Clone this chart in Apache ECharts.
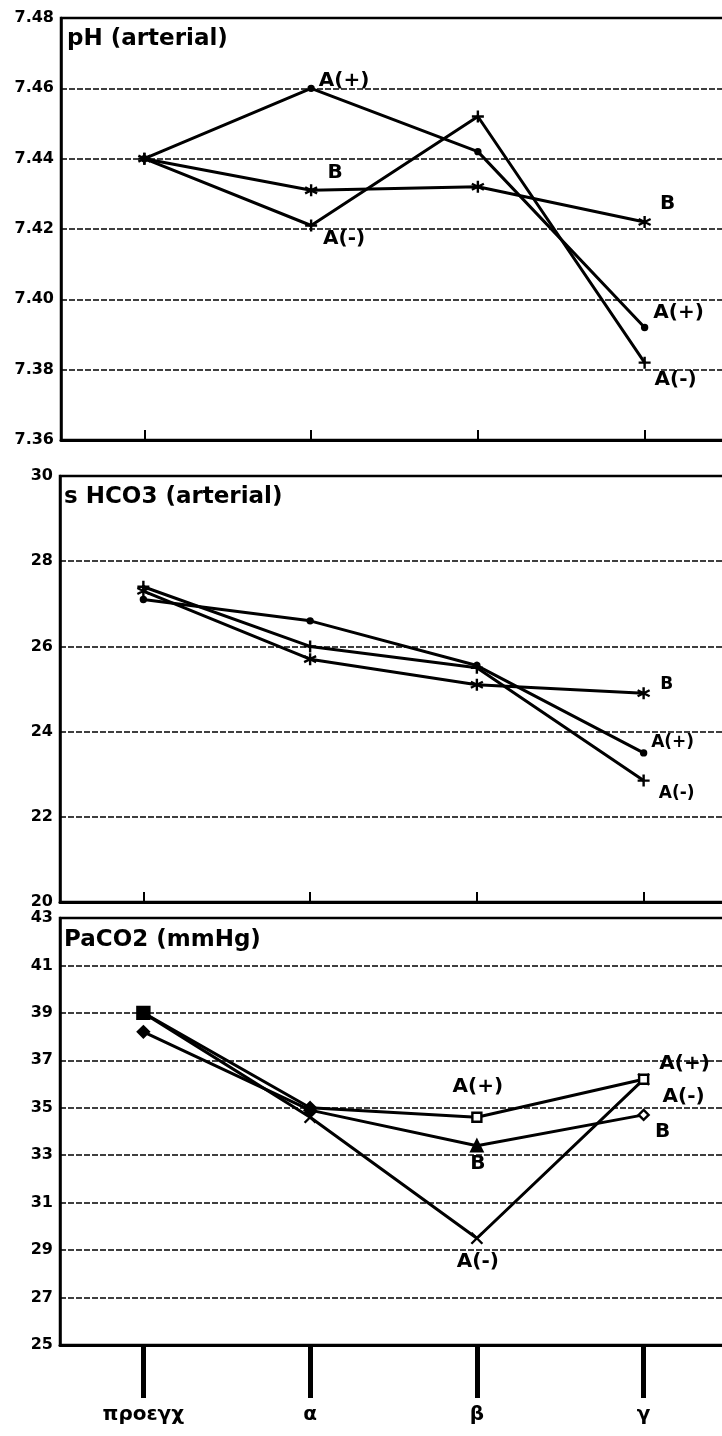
<!DOCTYPE html>
<html>
<head>
<meta charset="utf-8">
<script src="https://cdn.jsdelivr.net/npm/echarts@6/dist/echarts.min.js"></script>
<style>
  html, body { margin: 0; padding: 0; background: #fff; }
  #chart { width: 722px; height: 1436px; }
</style>
</head>
<body>
<div id="chart"></div>
<script>
// ---- data ----
const stages = ['προεγχ', 'α', 'β', 'γ'];

// pH (arterial)
const phAplus  = [7.44, 7.46, 7.442, 7.392];
const phAminus = [7.44, 7.421, 7.452, 7.382];
const phB      = [7.44, 7.431, 7.432, 7.422];
const phTicks  = [7.36, 7.38, 7.40, 7.42, 7.44, 7.46, 7.48];
const phLabelsAplus  = ['', 'A(+)', '', 'A(+)'];
const phLabelsAminus = ['', 'A(-)', '', 'A(-)'];
const phLabelsB      = ['', 'B', '', 'B'];

// s HCO3 (arterial)
const hcoAplus  = [27.1, 26.6, 25.55, 23.5];
const hcoAminus = [27.4, 26.0, 25.5, 22.85];
const hcoB      = [27.3, 25.7, 25.1, 24.9];
const hcoTicks  = [20, 22, 24, 26, 28, 30];
const hcoLabelsAplus  = ['', '', '', 'A(+)'];
const hcoLabelsAminus = ['', '', '', 'A(-)'];
const hcoLabelsB      = ['', '', '', 'B'];

// PaCO2 (mmHg)
const pacAplus  = [39.0, 35.0, 34.6, 36.2];
const pacAminus = [39.0, 34.6, 29.5, 36.2];
const pacB      = [38.2, 34.9, 33.4, 34.7];
const pacTicks  = [25, 27, 29, 31, 33, 35, 37, 39, 41, 43];
const pacLabelsAplus  = ['', '', 'A(+)', 'A(+)'];
const pacLabelsAminus = ['', '', 'A(-)', 'A(-)'];
const pacLabelsB      = ['', '', 'B', 'B'];

// ---- styling ----
const FONT = 'DejaVu Sans';
const INK = '#000';
const AST   = 'path://M0,-6L0,6M-5.2,-3L5.2,3M-5.2,3L5.2,-3';
const PLUS  = 'path://M0,-6L0,6M-6,0L6,0';
const CROSS = 'path://M-5,-5L5,5M-5,5L5,-5';

// label offsets (px from the point) for each series, per stage
const place = {
  phAplus:  [null, [33, -8], null, [34, -15]],
  phAminus: [null, [33, 13], null, [31, 17]],
  phB:      [null, [24, -18], null, [23, -18]],
  hcoAplus: [null, null, null, [29, -10]],
  hcoAminus:[null, null, null, [33, 13]],
  hcoB:     [null, null, null, [23, -9]],
  pacAplus: [null, null, [1, -30], [41, -16]],
  pacAminus:[null, null, [1, 24], [40, 17]],
  pacB:     [null, null, [1, 18], [19, 17]]
};

function series(panel, values, labels, offsets, marks, fontSize) {
  return {
    type: 'line',
    xAxisIndex: panel,
    yAxisIndex: panel,
    showAllSymbol: true,
    lineStyle: { color: INK, width: 3 },
    itemStyle: { color: INK, borderColor: INK, borderWidth: 2.4 },
    z: 3,
    data: values.map((v, i) => {
      const m = marks[i];
      const item = {
        value: v,
        symbol: m[0],
        symbolSize: m[1],
        itemStyle: { color: m[2] || INK }
      };
      if (labels[i]) {
        item.label = {
          show: true,
          formatter: labels[i],
          position: 'inside',
          offset: offsets[i],
          color: INK,
          textBorderWidth: 0,
          fontFamily: FONT,
          fontWeight: 'bold',
          fontSize: fontSize
        };
      }
      return item;
    })
  };
}

const dot = ['circle', 5];
const ast = [AST, 12];
const plus = [PLUS, 12];
const cross = [CROSS, 11];
const sqOpen = ['rect', 9, '#fff'];
const sqFull = ['rect', 12];
const dia = ['diamond', 11];
const diaOpen = ['diamond', 10, '#fff'];
const tri = ['triangle', 11];

function yAxis(panel, ticks, step, fmt, colors) {
  return {
    type: 'value',
    gridIndex: panel,
    min: ticks[0],
    max: ticks[ticks.length - 1],
    interval: step,
    axisLine: { show: true, lineStyle: { color: INK, width: 2.5 } },
    axisTick: { show: false },
    axisLabel: {
      color: INK, fontFamily: FONT, fontWeight: 'bold', fontSize: 16,
      margin: 7, formatter: fmt
    },
    splitLine: {
      show: true,
      lineStyle: { color: colors || INK, width: 1.7, type: [6, 2] }
    }
  };
}

function xAxis(panel, bottom) {
  return {
    type: 'category',
    gridIndex: panel,
    data: stages,
    boundaryGap: true,
    axisLine: { show: true, lineStyle: { color: INK, width: 3 } },
    axisTick: bottom
      ? { show: true, alignWithLabel: true, inside: false, length: 53, lineStyle: { color: INK, width: 5 } }
      : { show: true, alignWithLabel: true, inside: true, length: 10, lineStyle: { color: INK, width: 2 } },
    axisLabel: bottom
      ? { show: true, color: INK, fontFamily: FONT, fontWeight: 'bold', fontSize: 20, margin: 60 }
      : { show: false },
    splitLine: { show: false }
  };
}

// the plot area runs on past the right edge of the page
const gridBox = {
  show: true, borderColor: INK, borderWidth: 2.5, backgroundColor: 'transparent',
  outerBoundsMode: 'none', containLabel: false
};

const option = {
  animation: false,
  backgroundColor: '#fff',
  title: [
    { text: 'pH (arterial)', left: 67, top: 28 },
    { text: 's HCO3 (arterial)', left: 64, top: 486 },
    { text: 'PaCO2 (mmHg)', left: 64, top: 929 }
  ].map(t => Object.assign(t, {
    padding: 0,
    textStyle: { color: INK, fontFamily: FONT, fontWeight: 'bold', fontSize: 23 }
  })),
  grid: [
    Object.assign({ left: 61, top: 18, width: 667, height: 422 }, gridBox),
    Object.assign({ left: 60, top: 476, width: 667, height: 426 }, gridBox),
    Object.assign({ left: 60, top: 918, width: 667, height: 427 }, gridBox)
  ],
  xAxis: [xAxis(0, false), xAxis(1, false), xAxis(2, true)],
  yAxis: [
    yAxis(0, phTicks, 0.02, v => v.toFixed(2)),
    yAxis(1, hcoTicks, 2, v => String(v)),
    // odd-valued grid: step 1, every other line and label hidden
    yAxis(2, pacTicks, 1, v => (pacTicks.indexOf(v) >= 0 ? String(v) : ''), [INK, 'rgba(0,0,0,0)'])
  ],
  series: [
    series(0, phAplus,  phLabelsAplus,  place.phAplus,  [dot, dot, dot, dot], 20),
    series(0, phAminus, phLabelsAminus, place.phAminus, [plus, plus, plus, plus], 20),
    series(0, phB,      phLabelsB,      place.phB,      [ast, ast, ast, ast], 20),

    series(1, hcoAplus,  hcoLabelsAplus,  place.hcoAplus,  [dot, dot, dot, dot], 17),
    series(1, hcoAminus, hcoLabelsAminus, place.hcoAminus, [plus, plus, plus, plus], 17),
    series(1, hcoB,      hcoLabelsB,      place.hcoB,      [ast, ast, ast, ast], 17),

    series(2, pacAminus, pacLabelsAminus, place.pacAminus, [cross, cross, cross, cross], 20),
    series(2, pacB,      pacLabelsB,      place.pacB,      [dia, dia, tri, diaOpen], 20),
    series(2, pacAplus,  pacLabelsAplus,  place.pacAplus,  [sqFull, dia, sqOpen, sqOpen], 20)
  ]
};

const chart = echarts.init(document.getElementById('chart'), null, { renderer: 'canvas' });
chart.setOption(option);
</script>
</body>
</html>
